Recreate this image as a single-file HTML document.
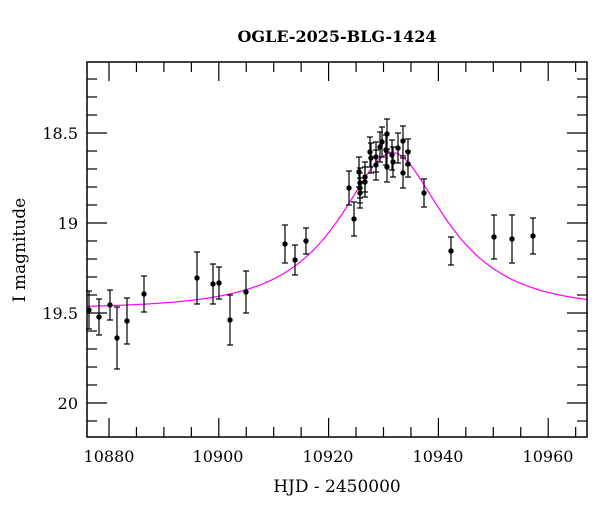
<!DOCTYPE html>
<html><head><meta charset="utf-8"><style>
body{margin:0;background:#fff}
svg text{font-family:"DejaVu Serif","Liberation Serif",serif;fill:#000}
</style></head><body>
<svg id="s" width="600" height="512" xmlns="http://www.w3.org/2000/svg">
<rect width="600" height="512" fill="#fff"/>
<text x="337" y="42" text-anchor="middle" font-size="16" font-weight="bold">OGLE-2025-BLG-1424</text>
<g id="ticks" stroke="#000" stroke-width="1.2"></g>
<path id="curve" fill="none" stroke="#ff00ff" stroke-width="1.2"/>
<g id="pts" stroke="#000" stroke-width="1.2"></g>
<rect x="87" y="62" width="500" height="375" fill="none" stroke="#000" stroke-width="1.5"/>
<g font-size="16" text-anchor="middle">
<text x="109" y="462">10880</text><text x="218" y="462">10900</text><text x="328" y="462">10920</text><text x="438" y="462">10940</text><text x="548" y="462">10960</text>
</g>
<g font-size="16" text-anchor="end">
<text x="78" y="139">18.5</text><text x="78" y="229">19</text><text x="78" y="319">19.5</text><text x="78" y="409">20</text>
</g>
<text x="337" y="492" text-anchor="middle" font-size="17">HJD - 2450000</text>
<text transform="translate(25,250) rotate(-90)" text-anchor="middle" font-size="17">I magnitude</text>
</svg>
<script>
var X=function(t){return 109+(t-10880)*5.49},Y=function(m){return 133+(m-18.5)*180};
var g=document.getElementById('ticks'),h='';
for(var t=10880;t<=10965;t+=5){var x=X(t),L=(t%20==0)?19:10;h+='<line x1="'+x+'" y1="437" x2="'+x+'" y2="'+(437-L)+'"/><line x1="'+x+'" y1="62" x2="'+x+'" y2="'+(62+L)+'"/>';}
for(var i=2;i<=21;i++){var m=18+i*0.1,y=Y(m);if(y<63||y>436)continue;var L=(i%5==0)?20:10;h+='<line x1="87" y1="'+y+'" x2="'+(87+L)+'" y2="'+y+'"/><line x1="587" y1="'+y+'" x2="'+(587-L)+'" y2="'+y+'"/>';}
g.innerHTML=h;
var d='';for(var x=87;x<=587;x+=2){var t=10880+(x-109)/5.49,u=Math.sqrt(0.49*0.49+Math.pow((t-10931.6)/16.7,2)),A=(u*u+2)/(u*Math.sqrt(u*u+4)),m=19.475-2.5*Math.log10(A);d+=(x==87?'M':'L')+x+' '+Y(m).toFixed(1);}
document.getElementById('curve').setAttribute('d',d);
var P=[[89,310,19],[99,317,18],[110,305,15],[117,338,31],[127,321,23],[144,294,18],[197,278,26],[213,284,20],[219,283,16],[230,320,25],[246,292,21],[285,244,19],[295,260,15],[306,241,13],[349,188,17],[354,219,17],[359,172,15],[360,183,15],[360,188,15],[360,193,15],[365,177,15],[365,182,15],[370,152,15],[371,158,15],[376,157,15],[376,165,15],[380,147,15],[382,142,15],[386,150,15],[387,134,15],[387,167,15],[392,155,15],[393,162,15],[398,148,15],[403,141,15],[403,173,15],[408,152,13],[408,164,13],[424,193,14],[451,251,14],[494,237,22],[512,239,24],[533,236,18]];
var q='';P.forEach(function(p){var x=p[0],y=p[1],e=p[2];q+='<line x1="'+x+'" y1="'+(y-e)+'" x2="'+x+'" y2="'+(y+e)+'"/><line x1="'+(x-3)+'" y1="'+(y-e)+'" x2="'+(x+3)+'" y2="'+(y-e)+'"/><line x1="'+(x-3)+'" y1="'+(y+e)+'" x2="'+(x+3)+'" y2="'+(y+e)+'"/><circle cx="'+x+'" cy="'+y+'" r="2.7" fill="#000" stroke="none"/>';});
document.getElementById('pts').innerHTML=q;
</script>
</body></html>
